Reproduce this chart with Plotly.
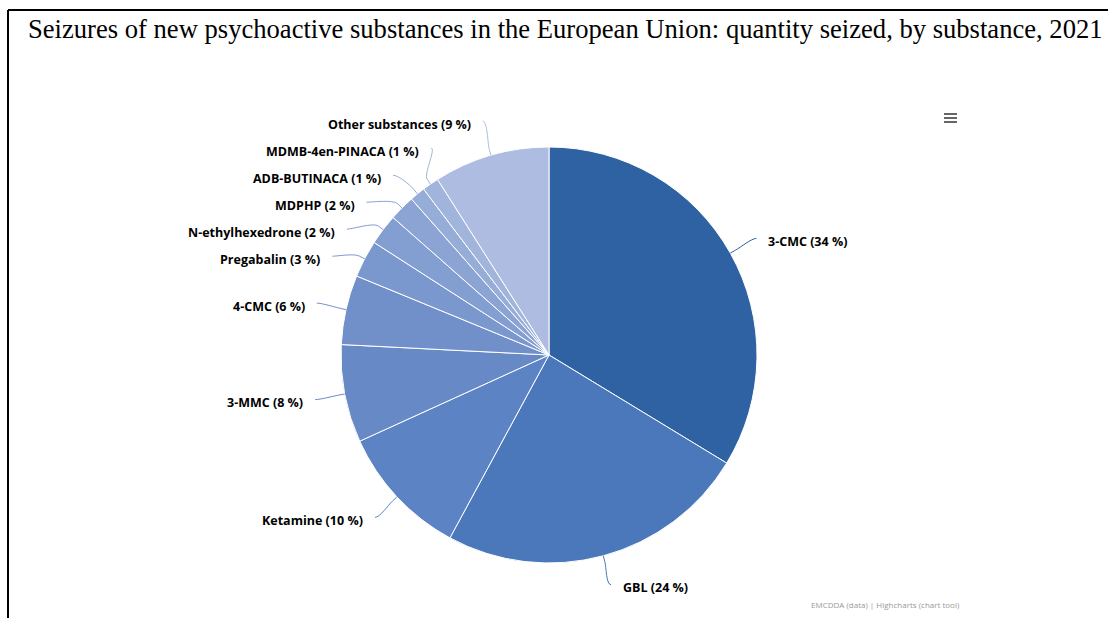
import math
import plotly.graph_objects as go

# ---- data ----
substances = ["3-CMC", "GBL", "Ketamine", "3-MMC", "4-CMC", "Pregabalin",
              "N-ethylhexedrone", "MDPHP", "ADB-BUTINACA", "MDMB-4en-PINACA",
              "Other substances"]
share = [33.7, 24.2, 10.3, 7.6, 5.4, 2.9, 2.4, 2.0, 1.2, 1.3, 9.0]
label_pct = [34, 24, 10, 8, 6, 3, 2, 2, 1, 1, 9]
title_text = ("Seizures of new psychoactive substances in the European Union: "
              "quantity seized, by substance, 2021")
credits_text = "EMCDDA (data) | Highcharts (chart tool)"

colors = ["#2f62a3", "#4a78bb", "#5c83c3", "#6789c6", "#7190ca", "#7b98ce",
          "#839ed1", "#8ba4d4", "#96add8", "#a1b5dc", "#adbce0"]

# ---- layout geometry ----
W, H = 1108, 618
cx, cy, r = 549, 355, 208
label_dist = 30
R = r + label_dist
box = 27


def px(x):
    return x / W


def py(y):
    return 1 - y / H


fig = go.Figure(go.Pie(
    labels=substances, values=share, sort=False, direction="clockwise",
    rotation=0, textinfo="none", hoverinfo="label+percent",
    marker=dict(colors=colors, line=dict(color="white", width=1)),
    domain=dict(x=[px(cx - r), px(cx + r)], y=[py(cy + r), py(cy - r)]),
    showlegend=False,
))

# mid angles
total = sum(share)
mids = []
acc = 0
for v in share:
    mids.append((acc + v / 2) / total * 360)
    acc += v


def pt(theta, rho):
    t = math.radians(theta)
    return cx + rho * math.sin(t), cy - rho * math.cos(t)


# natural label positions and distribution (Highcharts-like)
info = []
for i, th in enumerate(mids):
    left = th > 180
    ny = pt(th, R)[1]
    info.append(dict(i=i, left=left, ny=ny))

base_y = {}
final_y = {}
for side in (True, False):
    items = sorted([d for d in info if d["left"] == side], key=lambda d: d["ny"])
    groups = [dict(members=[d], targets=[d["ny"]]) for d in items]
    changed = True
    while changed:
        for g in groups:
            c = (min(g["targets"]) + max(g["targets"])) / 2
            size = box * len(g["members"])
            g["pos"] = min(max(c - size / 2, 0), H - size)
        changed = False
        j = len(groups) - 1
        while j > 0:
            a, b = groups[j - 1], groups[j]
            if a["pos"] + box * len(a["members"]) > b["pos"]:
                a["members"] += b["members"]
                a["targets"] += b["targets"]
                groups.pop(j)
                changed = True
            j -= 1
    for g in groups:
        shift = 3 if len(g["members"]) > 1 else 0
        for k, d in enumerate(g["members"]):
            base_y[d["i"]] = g["pos"] + k * box + box / 2
            final_y[d["i"]] = base_y[d["i"]] + shift

annotations = []
shapes = []
for d in info:
    i = d["i"]
    th = mids[i]
    y = final_y[i]
    yx = y if abs(base_y[i] - cy) < R - 2 else d["ny"]
    dx = math.sqrt(max(R ** 2 - (yx - cy) ** 2, 0))
    sgn = -1 if d["left"] else 1
    x = cx + sgn * dx
    tx, ty = pt(th, r)
    bx, by = pt(th, r + 6)
    c2x, c2y = 2 * bx - tx, 2 * by - ty
    c1x = x - sgn * 5
    path = (f"M {px(x)},{py(y)} C {px(c1x)},{py(y)} {px(c2x)},{py(c2y)} "
            f"{px(bx)},{py(by)} L {px(tx)},{py(ty)}")
    shapes.append(dict(type="path", xref="paper", yref="paper", path=path,
                       line=dict(color=colors[i], width=1)))
    annotations.append(dict(
        text=f"{substances[i]} ({label_pct[i]} %)",
        x=px(x + sgn * 10), y=py(y + 3), xref="paper", yref="paper",
        xanchor="right" if d["left"] else "left", yanchor="middle",
        showarrow=False,
        font=dict(family="Open Sans, sans-serif", size=12.5, color="#000000",
                  weight="bold"),
    ))

# title
annotations.append(dict(
    text=title_text, x=px(26), y=py(29), xref="paper", yref="paper",
    xanchor="left", yanchor="middle", showarrow=False,
    font=dict(family="Liberation Serif, Times New Roman, serif", size=26.6,
              color="#000000")))
# credits
annotations.append(dict(
    text=credits_text, x=px(962), y=py(604), xref="paper", yref="paper",
    xanchor="right", yanchor="middle", showarrow=False,
    font=dict(family="Open Sans, sans-serif", size=8, color="#999999")))

# frame lines
shapes.append(dict(type="line", xref="paper", yref="paper",
                   x0=px(8), x1=px(8), y0=py(10), y1=0,
                   line=dict(color="black", width=2)))
shapes.append(dict(type="line", xref="paper", yref="paper",
                   x0=px(8), x1=1, y0=py(10), y1=py(10),
                   line=dict(color="black", width=2)))
# export menu icon
for yy in (114, 118, 122):
    shapes.append(dict(type="line", xref="paper", yref="paper",
                       x0=px(944), x1=px(957), y0=py(yy), y1=py(yy),
                       line=dict(color="#666666", width=2)))

fig.update_layout(
    width=W, height=H, margin=dict(l=0, r=0, t=0, b=0),
    paper_bgcolor="white", plot_bgcolor="white",
    annotations=annotations, shapes=shapes,
)
fig.write_html("out.html", config={"displayModeBar": False})
